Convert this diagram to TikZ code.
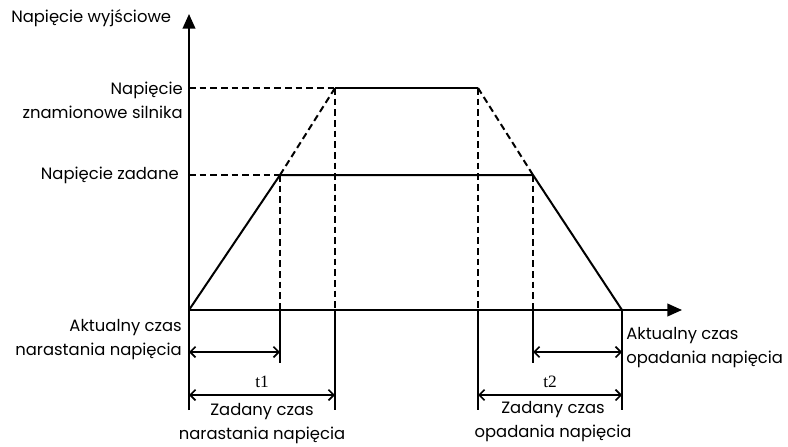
\documentclass[tikz,border=0pt]{standalone}
\usepackage{fontspec}
\setmainfont{Poppins}
\newfontfamily\tfont{Liberation Serif}
\usetikzlibrary{arrows.meta}

\begin{document}
\begin{tikzpicture}
[x=0.75pt, y=-0.75pt, every node/.style={color=black, inner sep=0pt},
 lbl/.style={font=\fontsize{12.3}{18}\selectfont, align=right, anchor=east},
 axis/.style={line width=1.4pt, -{Triangle[length=11pt, width=9.5pt]}},
 ramp/.style={line width=1.5pt},
 guide/.style={line width=1.5pt, dash pattern=on 5pt off 3pt},
 tick/.style={line width=1.6pt},
 dim/.style={line width=1.2pt, {Straight Barb[length=4pt, width=8pt]}-{Straight Barb[length=4pt, width=8pt]}}]
    \useasboundingbox (0, 0) rectangle (788, 446);
    \coordinate (o) at (189, 310);
    \coordinate (ytop) at (189, 14);
    \coordinate (xend) at (682, 310);
    \coordinate (a1) at (280, 175);
    \coordinate (a2) at (335, 88);
    \coordinate (b1) at (478, 88);
    \coordinate (b2) at (533, 175);
    \coordinate (e) at (622, 310);
    \coordinate (h1) at (189, 175);
    \coordinate (h2) at (189, 88);
    % feet of the time marks
    \coordinate (a1x) at (280, 310);
    \coordinate (a2x) at (335, 310);
    \coordinate (b1x) at (478, 310);
    \coordinate (b2x) at (533, 310);
    \coordinate (a1s) at (280, 363);
    \coordinate (a2s) at (335, 410);
    \coordinate (b1s) at (478, 410);
    \coordinate (b2s) at (533, 363);
    \coordinate (os) at (189, 410);
    \coordinate (es) at (622, 410);
    % axes
    \draw[axis] (os) -- (ytop);
    \draw[axis] (o) -- (xend);
    % voltage curve
    \draw[ramp] (o) -- (a1) -- (b2) -- (e);
    \draw[ramp] (a2) -- (b1);
    \draw[guide] (a1) -- (a2);
    \draw[guide] (b1) -- (b2);
    % levels and time marks
    \draw[guide] (h2) -- (a2);
    \draw[guide] (h1) -- (a1);
    \draw[guide] (a1) -- (a1x);
    \draw[guide] (a2) -- (a2x);
    \draw[guide] (b1) -- (b1x);
    \draw[guide] (b2) -- (b2x);
    \draw[tick] (a1x) -- (a1s);
    \draw[tick] (a2x) -- (a2s);
    \draw[tick] (b1x) -- (b1s);
    \draw[tick] (b2x) -- (b2s);
    \draw[line width=1.2pt] (e) -- (es);
    % times
    \draw[dim] (189, 352) coordinate (r1) -- (280, 352) coordinate (r2);
    \draw[dim] (533, 352) coordinate (f1) -- (622, 352) coordinate (f2);
    \draw[dim] (189, 395) coordinate (r3) -- (335, 395) coordinate (r4)
        node[midway, above=5pt, font=\tfont\fontsize{13}{14}\selectfont] (t1) {t1};
    \draw[dim] (478, 395) coordinate (f3) -- (622, 395) coordinate (f4)
        node[midway, above=5pt, font=\tfont\fontsize{13}{14}\selectfont] (t2) {t2};
    % labels
    \node[lbl, anchor=west] (uout) at (11, 18) {Napięcie wyjściowe};
    \node[lbl] (unom) at (183, 100) {Napięcie\\znamionowe silnika};
    \node[lbl] (uset) at (179, 175) {Napięcie zadane};
    \node[lbl] (trise) at (182, 340) {Aktualny czas\\narastania napięcia};
    \node[lbl, align=left, anchor=west] (tfall) at (626, 348) {Aktualny czas\\opadania napięcia};
    \node[lbl, align=center, anchor=center] (trset) at (262, 424) {Zadany czas\\narastania napięcia};
    \node[lbl, align=center, anchor=center] (tfset) at (553, 422) {Zadany czas\\opadania napięcia};
\end{tikzpicture}
\end{document}
